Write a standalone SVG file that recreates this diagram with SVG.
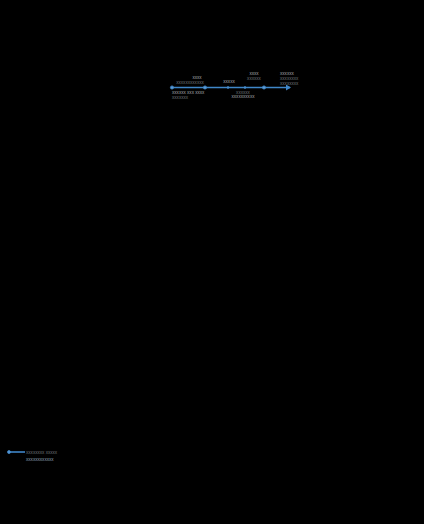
<svg xmlns="http://www.w3.org/2000/svg" width="424" height="524" viewBox="0 0 424 524">
<style>
.t{font-family:"Liberation Sans",Arial,sans-serif;font-size:4.6px;fill:#a3a8ad}
.d{fill:#6e7379}
.l{fill:#8fa3b8}
.ln{stroke:#3f86c8;stroke-width:1.6;fill:none}
.dot{fill:#5a9ad6;stroke:#3f86c8;stroke-width:0.8}
</style>
<defs>
<marker id="ah" markerWidth="6" markerHeight="6" refX="4" refY="3" orient="auto" markerUnits="userSpaceOnUse">
<path d="M0,0 L5,3 L0,6 z" fill="#3f86c8"/>
</marker>
</defs>
<rect width="424" height="524" fill="#000"/>
<g id="connectors">
<line class="ln" x1="172" y1="87.5" x2="290" y2="87.5" marker-end="url(#ah)"/>
</g>
<g id="n1"><circle class="dot" cx="172" cy="87.5" r="1.6"/>
<text class="t" x="172" y="93.5">xxxxxx xxx xxxx</text>
<text class="t d" x="172" y="98.5">xxxxxxx</text></g>
<g id="n2"><circle class="dot" cx="205" cy="87.5" r="1.6"/>
<text class="t" x="197" y="79" text-anchor="middle">xxxx</text>
<text class="t d" x="190" y="84" text-anchor="middle">xxxxxxxxxxxx</text></g>
<g id="n3"><circle class="dot" cx="228" cy="87.5" r="0.9"/>
<text class="t" x="229" y="83" text-anchor="middle">xxxxx</text></g>
<g id="n4"><circle class="dot" cx="245" cy="87.5" r="0.9"/>
<text class="t d" x="243" y="93.5" text-anchor="middle">xxxxxx</text>
<text class="t" x="243" y="98" text-anchor="middle">xxxxxxxxxx</text></g>
<g id="n5"><circle class="dot" cx="264" cy="87.5" r="1.6"/>
<text class="t" x="254" y="75" text-anchor="middle">xxxx</text>
<text class="t d" x="254" y="80" text-anchor="middle">xxxxxx</text></g>
<g id="n6">
<text class="t" x="280" y="75">xxxxxx</text>
<text class="t d" x="280" y="80">xxxxxxxx</text>
<text class="t d" x="280" y="84.5">xxxxxxxx</text></g>
<g id="legend">
<line class="ln" x1="8" y1="452" x2="25" y2="452"/>
<circle class="dot" cx="9" cy="452" r="1.5"/>
<text class="t d" x="26" y="454">xxxxxxxx xxxxx</text>
<text class="t l" x="26" y="461">xxxxxxxxxxxx</text></g>
</svg>
